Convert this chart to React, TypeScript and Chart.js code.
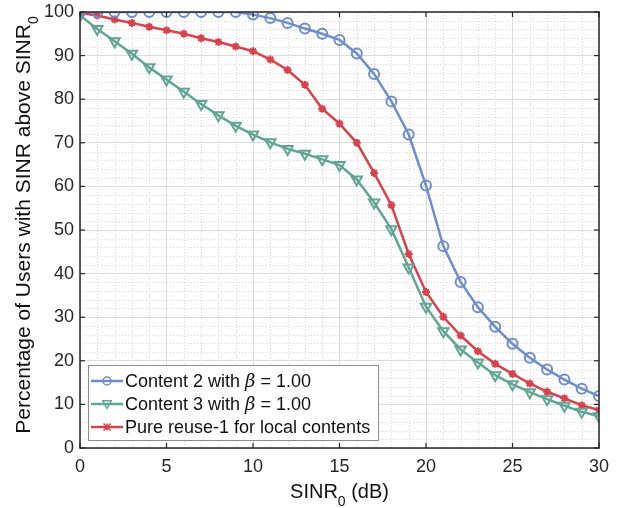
import React, { useEffect, useRef } from "react";
import { Chart, registerables } from "chart.js";

Chart.register(...registerables);

const sinr = [0,1,2,3,4,5,6,7,8,9,10,11,12,13,14,15,16,17,18,19,20,21,22,23,24,25,26,27,28,29,30];
const content2 = [100,100,100,100,100,100,100,100,100,100,99.4,98.6,97.5,96.2,95.0,93.6,90.5,85.8,79.5,71.9,60.2,46.3,38.1,32.3,27.8,23.9,20.7,18.0,15.7,13.6,11.9];
const content3 = [99.2,96.1,93.3,90.4,87.3,84.5,81.7,78.9,76.3,73.9,71.9,70.1,68.6,67.5,66.2,64.9,61.6,56.3,50.2,41.4,32.4,26.8,22.6,19.6,16.7,14.6,12.8,11.2,9.7,8.3,7.3];
const reuse1 = [99.8,99.2,98.3,97.5,96.6,95.8,95.0,94.0,93.1,92.1,91.0,89.1,86.7,83.3,77.8,74.4,70.0,63.1,55.7,44.5,35.8,30.1,25.8,22.2,19.3,17.0,14.8,12.9,11.4,9.8,8.7];
const xTicks = [0,5,10,15,20,25,30];
const yTicks = [0,10,20,30,40,50,60,70,80,90,100];

const BLUE = "#6d8ec8";
const GREEN = "#62a593";
const RED = "#d5434c";
const FONT = "'Liberation Sans', Arial, sans-serif";

const legendItems = [
  { pre: "Content 2 with ", beta: true, post: " = 1.00", color: BLUE, style: "circle", r: 4, rot: 0 },
  { pre: "Content 3 with ", beta: true, post: " = 1.00", color: GREEN, style: "triangle", r: 4.5, rot: 180 },
  { pre: "Pure reuse-1 for local contents", beta: false, post: "", color: RED, style: "star", r: 3.5, rot: 0 },
];

function drawPoint(ctx: CanvasRenderingContext2D, style: string, r: number, x: number, y: number, rot: number, color: string) {
  ctx.save();
  ctx.strokeStyle = color;
  ctx.lineWidth = 1.5;
  ctx.translate(x, y);
  ctx.rotate((rot * Math.PI) / 180);
  ctx.beginPath();
  if (style === "circle") {
    ctx.arc(0, 0, r, 0, Math.PI * 2);
  } else if (style === "triangle") {
    ctx.moveTo(0, -r);
    ctx.lineTo(r * 0.95, r * 0.7);
    ctx.lineTo(-r * 0.95, r * 0.7);
    ctx.closePath();
  } else {
    ctx.moveTo(-r, -r); ctx.lineTo(r, r);
    ctx.moveTo(-r, r); ctx.lineTo(r, -r);
    ctx.moveTo(0, -r); ctx.lineTo(0, r);
  }
  ctx.stroke();
  ctx.restore();
}

const framePlugin = {
  id: "frame",
  beforeDraw(chart: any) {
    const { ctx, chartArea: a, scales } = chart;
    const xs = scales.x, ys = scales.y;
    ctx.save();
    ctx.strokeStyle = "#d9d9d9";
    ctx.lineWidth = 1;
    ctx.setLineDash([1, 2]);
    for (let v = 0; v <= 30; v++) {
      if (v % 5 === 0) continue;
      const px = Math.round(xs.getPixelForValue(v)) + 0.5;
      ctx.beginPath(); ctx.moveTo(px, a.top); ctx.lineTo(px, a.bottom); ctx.stroke();
    }
    for (let v = 0; v <= 100; v += 2) {
      if (v % 10 === 0) continue;
      const py = Math.round(ys.getPixelForValue(v)) + 0.5;
      ctx.beginPath(); ctx.moveTo(a.left, py); ctx.lineTo(a.right, py); ctx.stroke();
    }
    ctx.restore();
  },
  afterDraw(chart: any) {
    const { ctx, chartArea: a, scales } = chart;
    const xs = scales.x, ys = scales.y;
    ctx.save();
    ctx.setLineDash([]);
    ctx.strokeStyle = "#262626";
    ctx.lineWidth = 1.5;
    ctx.strokeRect(a.left, a.top, a.right - a.left, a.bottom - a.top);
    ctx.lineWidth = 1.2;
    const tl = 5;
    xTicks.forEach((v) => {
      const px = xs.getPixelForValue(v);
      ctx.beginPath(); ctx.moveTo(px, a.bottom); ctx.lineTo(px, a.bottom - tl); ctx.stroke();
      ctx.beginPath(); ctx.moveTo(px, a.top); ctx.lineTo(px, a.top + tl); ctx.stroke();
    });
    yTicks.forEach((v) => {
      const py = ys.getPixelForValue(v);
      ctx.beginPath(); ctx.moveTo(a.left, py); ctx.lineTo(a.left + tl, py); ctx.stroke();
      ctx.beginPath(); ctx.moveTo(a.right, py); ctx.lineTo(a.right - tl, py); ctx.stroke();
    });

    // legend
    const bx = 88, by = 365, bw = 290, bh = 75;
    ctx.fillStyle = "#ffffff";
    ctx.fillRect(bx, by, bw, bh);
    ctx.strokeStyle = "#8c8c8c";
    ctx.lineWidth = 1;
    ctx.strokeRect(bx + 0.5, by + 0.5, bw, bh);
    const rows = [381, 404, 427];
    legendItems.forEach((it, i) => {
      const y = rows[i];
      ctx.strokeStyle = it.color;
      ctx.lineWidth = 2.5;
      ctx.beginPath(); ctx.moveTo(91, y); ctx.lineTo(123, y); ctx.stroke();
      drawPoint(ctx, it.style, it.r, 107, y, it.rot, it.color);
      ctx.fillStyle = "#111111";
      ctx.textBaseline = "middle";
      ctx.textAlign = "left";
      ctx.font = `18px ${FONT}`;
      let x = 125;
      ctx.fillText(it.pre, x, y + 1);
      x += ctx.measureText(it.pre).width;
      if (it.beta) {
        ctx.font = `italic 18px 'DejaVu Serif', serif`;
        ctx.fillText("β", x, y + 1);
        x += ctx.measureText("β").width;
        ctx.font = `18px ${FONT}`;
        ctx.fillText(it.post, x, y + 1);
      }
    });

    // axis titles
    ctx.fillStyle = "#111111";
    ctx.textBaseline = "alphabetic";
    ctx.textAlign = "left";
    const main = "SINR";
    const rest = " (dB)";
    ctx.font = `20px ${FONT}`;
    const w1 = ctx.measureText(main).width;
    const w3 = ctx.measureText(rest).width;
    ctx.font = `14px ${FONT}`;
    const w2 = ctx.measureText("0").width;
    const cx = (a.left + a.right) / 2;
    const sx = cx - (w1 + w2 + w3) / 2;
    const base = 498;
    ctx.font = `20px ${FONT}`;
    ctx.fillText(main, sx, base);
    ctx.fillText(rest, sx + w1 + w2, base);
    ctx.font = `14px ${FONT}`;
    ctx.fillText("0", sx + w1, base + 8);

    // y title
    ctx.save();
    ctx.translate(30, 225);
    ctx.rotate(-Math.PI / 2);
    const ym = "Percentage of Users with SINR above SINR";
    ctx.font = `21px ${FONT}`;
    const yw1 = ctx.measureText(ym).width;
    ctx.font = `14px ${FONT}`;
    const yw2 = ctx.measureText("0").width;
    const ysx = -(yw1 + yw2) / 2;
    ctx.font = `21px ${FONT}`;
    ctx.fillText(ym, ysx, 0);
    ctx.font = `14px ${FONT}`;
    ctx.fillText("0", ysx + yw1, 8);
    ctx.restore();

    ctx.restore();
  },
};

export default function App() {
  const ref = useRef<HTMLCanvasElement | null>(null);
  useEffect(() => {
    if (!ref.current) return;
    const mk = (d: number[]) => sinr.map((x, i) => ({ x, y: d[i] }));
    const chart = new Chart(ref.current, {
      type: "line",
      data: {
        datasets: [
          {
            label: "Content 2 with β = 1.00",
            data: mk(content2),
            borderColor: BLUE,
            backgroundColor: "transparent",
            borderWidth: 2.5,
            pointStyle: "circle",
            pointRadius: 5,
            pointBorderWidth: 2,
            pointBackgroundColor: "transparent",
            pointBorderColor: BLUE,
            tension: 0,
          },
          {
            label: "Content 3 with β = 1.00",
            data: mk(content3),
            borderColor: GREEN,
            backgroundColor: "transparent",
            borderWidth: 2.5,
            pointStyle: "triangle",
            pointRotation: 180,
            pointRadius: 6,
            pointBorderWidth: 2,
            pointBackgroundColor: "transparent",
            pointBorderColor: GREEN,
            tension: 0,
          },
          {
            label: "Pure reuse-1 for local contents",
            data: mk(reuse1),
            borderColor: RED,
            backgroundColor: "transparent",
            borderWidth: 2.5,
            pointStyle: "star",
            pointRadius: 4,
            pointBorderWidth: 2,
            pointBackgroundColor: "transparent",
            pointBorderColor: RED,
            tension: 0,
          },
        ],
      },
      options: {
        animation: false,
        responsive: false,
        maintainAspectRatio: false,
        layout: { padding: { left: 0, right: 26, top: 12, bottom: 0 } },
        plugins: { legend: { display: false }, tooltip: { enabled: false } },
        scales: {
          x: {
            type: "linear",
            min: 0,
            max: 30,
            afterBuildTicks: (s: any) => { s.ticks = xTicks.map((v) => ({ value: v })); },
            afterFit: (s: any) => { s.height = 60; s.paddingLeft = 0; s.paddingRight = 0; },
            ticks: { color: "#262626", font: { family: FONT, size: 18 }, padding: 8, maxRotation: 0 },
            grid: { color: "#dcdcdc", lineWidth: 1, drawTicks: false },
            border: { display: false },
          },
          y: {
            type: "linear",
            min: 0,
            max: 100,
            afterBuildTicks: (s: any) => { s.ticks = yTicks.map((v) => ({ value: v })); },
            afterFit: (s: any) => { s.width = 80; s.paddingTop = 0; s.paddingBottom = 0; },
            ticks: { color: "#262626", font: { family: FONT, size: 18 }, padding: 6 },
            grid: { color: "#dcdcdc", lineWidth: 1, drawTicks: false },
            border: { display: false },
          },
        },
      },
      plugins: [framePlugin],
    } as any);
    return () => chart.destroy();
  }, []);
  return (
    <div style={{ position: "fixed", left: 0, top: 0, width: 625, height: 508, background: "#fff" }}>
      <canvas ref={ref} width={625} height={508} style={{ width: 625, height: 508 }} />
    </div>
  );
}
